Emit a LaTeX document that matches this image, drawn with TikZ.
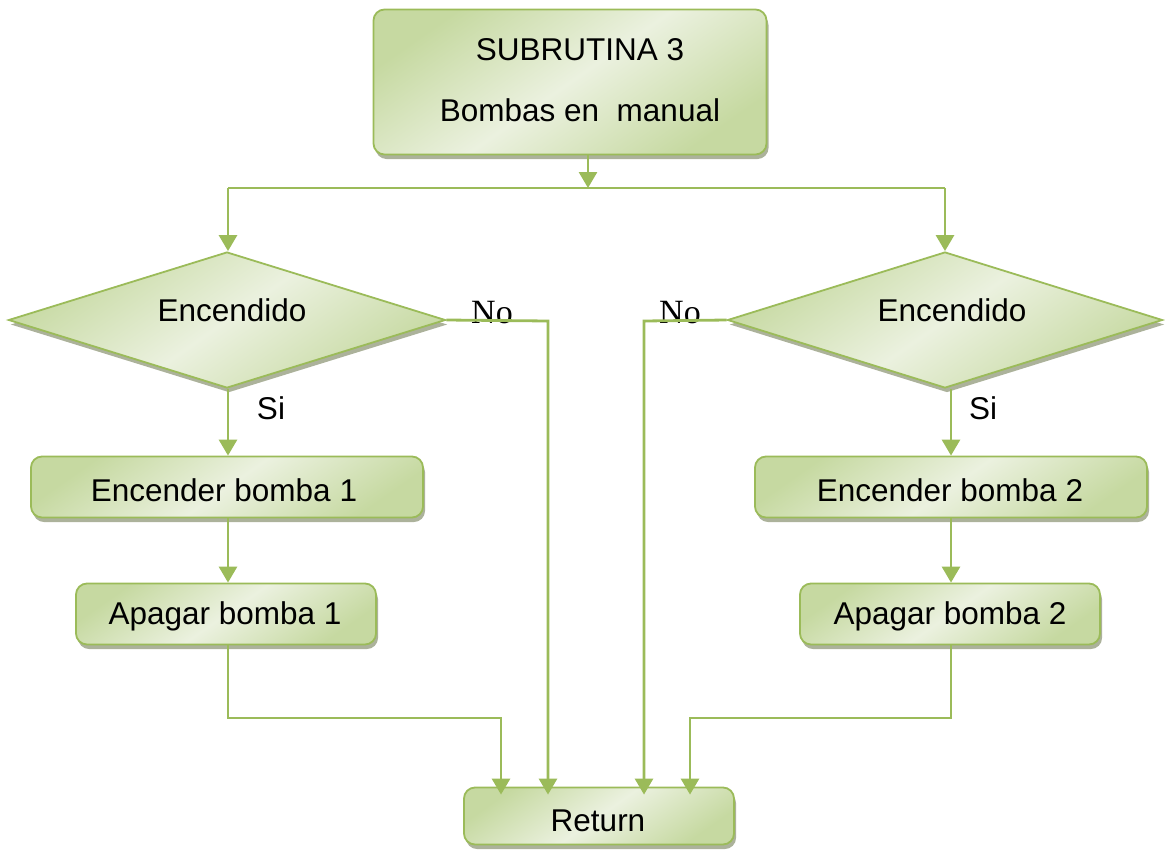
\documentclass[tikz,border=0pt]{standalone}
\usepackage{fontspec}
\setmainfont{Liberation Sans}
\newfontfamily\serifnote{Liberation Serif}
\usetikzlibrary{shapes.geometric,arrows.meta,shadows,calc}
\definecolor{lineg}{HTML}{9BBB59}
\definecolor{fillA}{HTML}{C6D9A1}
\definecolor{fillB}{HTML}{EBF1DF}
\definecolor{shade}{HTML}{A3AA90}
\tikzset{
  boxbase/.style={draw=lineg, line width=1.8pt, left color=fillA, right color=fillA,
    middle color=fillB, shading angle=35, inner sep=0pt,
    drop shadow={shadow xshift=2pt, shadow yshift=-4.5pt, fill=shade, opacity=0.9},
    font=\fontsize{31.5}{36}\selectfont},
  procbox/.style={boxbase, rectangle, rounded corners=11pt},
  decbox/.style={boxbase, diamond},
  flow/.style={draw=lineg, line width=2.8pt},
  arr/.style={flow, -{Triangle[width=18pt,length=16pt]}},
  lab/.style={font=\fontsize{31.5}{36}\selectfont, inner sep=0pt},
  nolab/.style={font=\serifnote\fontsize{34}{38}\selectfont, inner sep=0pt},
}
\begin{document}
\begin{tikzpicture}[x=1pt,y=-1pt]
\useasboundingbox (0,0) rectangle (1165,849);

% process blocks
\node[procbox, minimum width=393pt, minimum height=145pt] (top) at (570,82) {};
\node[lab] (topt) at (580,80) [align=center] {SUBRUTINA 3\\[25pt]Bombas en\ \ manual};
\node[decbox, minimum width=437pt, minimum height=136pt] (d1) at (227,320) {};
\node[lab] (d1t) at (232,310) {Encendido};
\node[decbox, minimum width=435pt, minimum height=136pt] (d2) at (945,320) {};
\node[lab] (d2t) at (952,310) {Encendido};
\node[procbox, minimum width=392pt, minimum height=61pt] (e1) at (227,487) {};
\node[lab] (e1t) at (224,490) {Encender bomba 1};
\node[procbox, minimum width=300pt, minimum height=61pt] (a1) at (226,614) {};
\node[lab] (a1t) at (225,616) {Apagar bomba 1};
\node[procbox, minimum width=392pt, minimum height=61pt] (e2) at (951,487) {};
\node[lab] (e2t) at (950,490) {Encender bomba 2};
\node[procbox, minimum width=300pt, minimum height=61pt] (a2) at (950,614) {};
\node[lab] (a2t) at (950,616) {Apagar bomba 2};
\node[procbox, minimum width=270pt, minimum height=57pt] (ret) at (599,816) {};
\node[lab] (rett) at (598,821) {Return};

% branch labels
\node[nolab] (no1) at (492,313) {No};
\node[nolab] (no2) at (680,313) {No};
\node[lab] (si1) at (271,408) {Si};
\node[lab] (si2) at (983,408) {Si};

% split below the title block
\coordinate (split) at (588,188);
\coordinate (sl) at (228,188);
\coordinate (sr) at (945,188);
\draw[arr] ([xshift=18pt]top.south) -- (split);
\draw[flow] (sl) -- (sr);
\draw[arr] (sl) -- (sl |- d1.north);
\draw[arr] (sr) -- (sr |- d2.north);

% left column
\coordinate (n1) at (548,321);
\coordinate (j1) at (228,718);
\coordinate (k1) at (501,718);
\draw[arr] (d1.east) -- (n1) -- ([yshift=-8pt]n1 |- ret.north);
\draw[arr] (d1.south -| 228,0) -- (228,0 |- e1.north);
\draw[arr] (e1.south -| 228,0) -- (228,0 |- a1.north);
\draw[arr] (a1.south -| 228,0) -- (j1) -- (k1) -- ([yshift=-8pt]k1 |- ret.north);

% right column
\coordinate (n2) at (644,321);
\coordinate (j2) at (951,718);
\coordinate (k2) at (690,718);
\draw[arr] (d2.west) -- (n2) -- ([yshift=-8pt]n2 |- ret.north);
\draw[arr] (d2.south -| 951,0) -- (951,0 |- e2.north);
\draw[arr] (e2.south -| 951,0) -- (951,0 |- a2.north);
\draw[arr] (a2.south -| 951,0) -- (j2) -- (k2) -- ([yshift=-8pt]k2 |- ret.north);
\end{tikzpicture}
\end{document}
